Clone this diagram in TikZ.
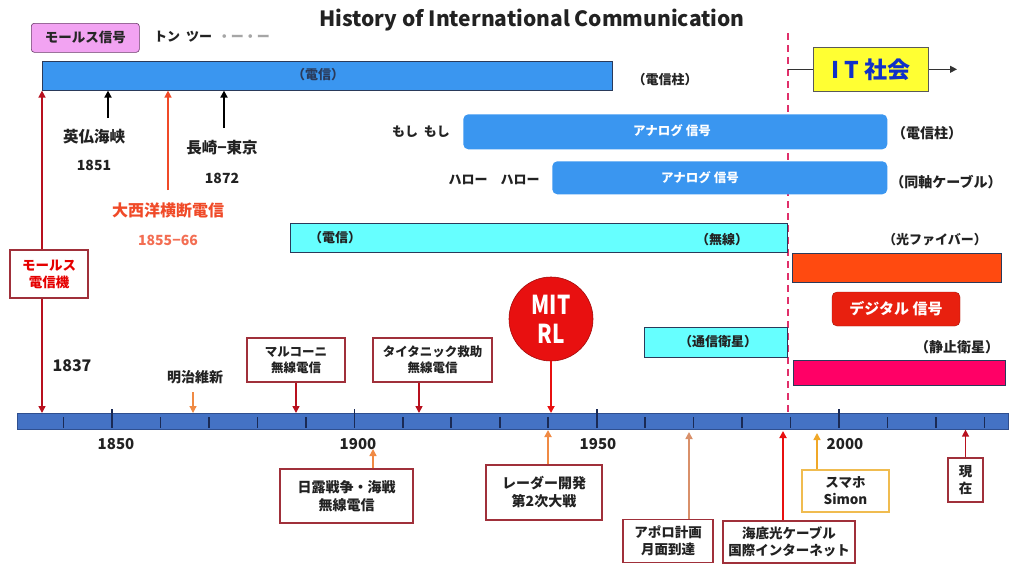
\documentclass[tikz,border=0pt]{standalone}
\usepackage{fontspec}
\setmainfont{Noto Sans CJK JP}
\usetikzlibrary{arrows.meta,calc}
\definecolor{txt}{HTML}{222222}
\definecolor{telebl}{HTML}{3A96F0}
\definecolor{barline}{HTML}{2A3A5A}
\definecolor{tlfill}{HTML}{4472C4}
\definecolor{tlline}{HTML}{2F4F8F}
\definecolor{tick}{HTML}{1A2A55}
\definecolor{cyanb}{HTML}{66FFFF}
\definecolor{fiberc}{HTML}{FF4A10}
\definecolor{satc}{HTML}{FF0066}
\definecolor{digic}{HTML}{E8200F}
\definecolor{itc}{HTML}{FFFF33}
\definecolor{itblue}{HTML}{1030C8}
\definecolor{pinkc}{HTML}{F2A3F2}
\definecolor{pinkline}{HTML}{6B3A6B}
\definecolor{boxred}{HTML}{A0303A}
\definecolor{darkred}{HTML}{B8101E}
\definecolor{brightred}{HTML}{E81010}
\definecolor{orangeA}{HTML}{F08A44}
\definecolor{apolloc}{HTML}{D9906A}
\definecolor{simonc}{HTML}{F0A828}
\definecolor{simonbox}{HTML}{F0BC50}
\definecolor{taiseic}{HTML}{F04A28}
\definecolor{dashc}{HTML}{E0306A}
\tikzset{
  lbl/.style={font=\fontsize{13}{15}\selectfont\bfseries, text=txt, inner sep=1pt},
  biglbl/.style={font=\fontsize{15.5}{17}\selectfont\bfseries, text=txt, inner sep=1pt},
  barbox/.style={anchor=north west, inner sep=0pt, line width=0.6pt, draw=barline},
  evbox/.style={draw=boxred, line width=1.1pt, fill=white, align=center,
    font=\fontsize{12.5}{16}\selectfont\bfseries, text=txt, inner sep=0pt},
  tipline/.style={-{Triangle[length=7pt,width=7pt]}, line width=1.5pt},
}
\begin{document}
\begin{tikzpicture}[x=1pt,y=-1pt]
\useasboundingbox (0,0) rectangle (1011,565);
\fill[white] (0,0) rectangle (1011,565);

% title
\node[font=\fontsize{21}{23}\selectfont\bfseries, text=txt] (title) at (532,20) {History of International Communication};

% dashed era line
\coordinate (dtop) at (788,33);
\node[barbox, draw=tlline, fill=tlfill, minimum width=991pt, minimum height=16pt] (tl) at (17,413) {};
\draw[dashc, line width=1.6pt, dash pattern=on 7pt off 5pt] (dtop) -- (dtop |- tl.north);

% morse top
\node[barbox, draw=pinkline, fill=pinkc, rounded corners=3pt, minimum width=108pt, minimum height=29pt] (morse) at (31,23) {};
\node[lbl, font=\fontsize{13.5}{15}\selectfont\bfseries, text=black!85] (morseT) at (morse.center) {モールス信号};
\node[lbl] (tonn) at (212,37) {トン\ \ ツー\ \ {\color{gray!70}・ー・ー}};

% telegraph bar
\node[barbox, fill=telebl, minimum width=570pt, minimum height=29pt] (tele) at (42,61) {};
\node[lbl, text=barline] (teleT) at (318,75) {（電信）};
\node[lbl] (pole1) at (665,80) {（電信柱）};

% IT society
\node[barbox, draw=gray!70!black, fill=itc, minimum width=115pt, minimum height=44pt] (it) at (813,47) {};
\node[font=\fontsize{23}{25}\selectfont\bfseries, text=itblue] (itT) at (it.center) {I T 社会};
\coordinate (itend) at (957,69);

% analog bars
\node[barbox, draw=none, fill=telebl, rounded corners=5pt, minimum width=424pt, minimum height=35pt] (an1) at (463,114) {};
\node[lbl, font=\fontsize{12.5}{14}\selectfont\bfseries, text=white] (an1T) at (672,131) {アナログ 信号};
\node[lbl] (moshi) at (421,132) {もし\ \ もし};
\node[lbl, font=\fontsize{14}{16}\selectfont\bfseries] (pole2) at (927,133) {（電信柱）};
\node[barbox, draw=none, fill=telebl, rounded corners=5pt, minimum width=335pt, minimum height=33pt] (an2) at (552,161) {};
\node[lbl, font=\fontsize{12.5}{14}\selectfont\bfseries, text=white] (an2T) at (700,178) {アナログ 信号};
\node[lbl] (hello) at (494,180) {ハロー\quad ハロー};
\node[lbl, font=\fontsize{14}{16}\selectfont\bfseries] (coax) at (946,182) {（同軸ケーブル）};

% early telegraph events
\node[biglbl] (eifutsu) at (94,137) {英仏海峡};
\node[lbl, font=\fontsize{14}{16}\selectfont\bfseries] (y1851) at (94,165) {1851};
\node[biglbl] (nagasaki) at (222,148) {長崎−東京};
\node[lbl, font=\fontsize{14}{16}\selectfont\bfseries] (y1872) at (222,178) {1872};
\node[biglbl, font=\fontsize{16}{17}\selectfont\bfseries, text=taiseic] (taisei) at (168,210) {大西洋横断電信};
\node[lbl, font=\fontsize{14}{16}\selectfont\bfseries, text=taiseic!80] (y1855) at (168,240) {1855−66};
\coordinate (e1) at (108,118);
\coordinate (n1) at (224,128);
\coordinate (t1) at (168,190);
\draw[tipline, line width=2pt, black] (e1) -- (e1 |- tele.south);
\draw[tipline, line width=2pt, black] (n1) -- (n1 |- tele.south);
\draw[tipline, taiseic] (t1) -- (t1 |- tele.south);

% wireless
\node[barbox, fill=cyanb, minimum width=497pt, minimum height=29pt] (cy1) at (290,223) {};
\node[lbl] (cy1L) at (335,238) {（電信）};
\node[lbl] (cy1R) at (722,240) {（無線）};
\node[lbl] (fiberT) at (935,240) {（光ファイバー）};
\node[barbox, fill=fiberc, minimum width=209pt, minimum height=29pt] (fiber) at (792,253) {};
\node[fill=digic, draw=digic!70!black, rounded corners=5pt, minimum width=128pt, minimum height=34pt,
  font=\fontsize{15}{17}\selectfont\bfseries, text=white, inner sep=0pt] (digi) at (896,309) {デジタル 信号};
\node[barbox, fill=cyanb, minimum width=143pt, minimum height=30pt] (cy2) at (644,327) {};
\node[lbl] (satT) at (718,342) {（通信衛星）};
\node[lbl, font=\fontsize{14}{16}\selectfont\bfseries] (geoT) at (957,347) {（静止衛星）};
\node[barbox, fill=satc, minimum width=212pt, minimum height=25pt] (sat) at (793,360) {};

% morse machine
\node[evbox, text=red!90!black, font=\fontsize{13.5}{17}\selectfont\bfseries, minimum width=78pt, minimum height=48pt] (mbox) at (49,274) {モールス\\電信機};
\draw[tipline, darkred] (mbox.north -| tele.west) -- (tele.south west);
\draw[tipline, darkred] (mbox.south -| tele.west) -- (tele.west |- tl.north);
\node[lbl, font=\fontsize{16}{18}\selectfont\bfseries] (y1837) at (72,366) {1837};

% upper events
\node[lbl, font=\fontsize{14}{16}\selectfont\bfseries] (meiji) at (195,377) {明治維新};
\coordinate (m1) at (193,392);
\draw[tipline, orangeA, line width=1.2pt] (m1) -- (m1 |- tl.north);
\node[evbox, minimum width=98pt, minimum height=44pt] (marconi) at (296,360) {マルコーニ\\無線電信};
\node[evbox, minimum width=119pt, minimum height=44pt] (titanic) at (432.5,360) {タイタニック救助\\無線電信};
\coordinate (ti1) at (419,413);
\draw[tipline, darkred] (marconi.south) -- (marconi.south |- tl.north);
\draw[tipline, darkred] (ti1 |- titanic.south) -- (ti1);

\node[circle, fill=brightred, draw=brightred!70!black, line width=0.6pt, minimum size=84pt, inner sep=0pt,
  align=center, text=white, font=\fontsize{26}{29}\selectfont\bfseries] (mit) at (551,319) {\scalebox{0.8}[1]{MIT}\\\scalebox{0.8}[1]{RL}};
\draw[tipline, brightred, line width=2pt] (mit.south) -- (mit.south |- tl.north);

% timeline ticks and years
\foreach \yr in {1840,1860,1870,1880,1890,1910,1920,1930,1940,1960,1970,1980,1990,2010,2020,2030}{
  \pgfmathsetmacro\xx{112+(\yr-1850)*4.847}
  \draw[tick, line width=1.6pt] (\xx,417) -- (\xx,428);
}
\foreach \yr in {1850,1900,1950,2000}{
  \pgfmathsetmacro\xx{112+(\yr-1850)*4.847}
  \draw[tick, line width=1.6pt] (\xx,409) -- (\xx,428);
}
\node[lbl, font=\fontsize{15}{17}\selectfont\bfseries] (y1850) at (116,444) {1850};
\node[lbl, font=\fontsize{15}{17}\selectfont\bfseries] (y1900) at (358,444) {1900};
\node[lbl, font=\fontsize{15}{17}\selectfont\bfseries] (y1950) at (598,444) {1950};
\node[lbl, font=\fontsize{15}{17}\selectfont\bfseries] (y2000) at (845,444) {2000};

% lower events
\node[evbox, font=\fontsize{14}{18}\selectfont\bfseries, minimum width=133pt, minimum height=54pt] (nichiro) at (346.5,496) {日露戦争・海戦\\無線電信};
\coordinate (ni1) at (373,449);
\draw[tipline, orangeA, line width=1.4pt] (ni1 |- nichiro.north) -- (ni1);
\node[evbox, font=\fontsize{14}{18}\selectfont\bfseries, minimum width=116pt, minimum height=55pt] (radar) at (544,492.5) {レーダー開発\\第2次大戦};
\coordinate (ra1) at (548,430);
\draw[tipline, orangeA, line width=1.8pt] (ra1 |- radar.north) -- (ra1);
\node[evbox, font=\fontsize{13.5}{17}\selectfont\bfseries, minimum width=90pt, minimum height=43pt] (apollo) at (668,541) {アポロ計画\\月面到達};
\coordinate (ap1) at (689,432);
\draw[tipline, apolloc, line width=1.6pt] (ap1 |- apollo.north) -- (ap1);
\node[evbox, font=\fontsize{13.5}{17}\selectfont\bfseries, minimum width=132pt, minimum height=42pt] (sea) at (789,542) {海底光ケーブル\\国際インターネット};
\coordinate (se1) at (783,431);
\draw[tipline, brightred, line width=2pt] (se1 |- sea.north) -- (se1);
\node[evbox, draw=simonbox, font=\fontsize{13.5}{17}\selectfont\bfseries, minimum width=87pt, minimum height=42pt] (simon) at (845.5,491) {スマホ\\Simon};
\coordinate (si1) at (817,433);
\draw[tipline, simonc, line width=1.5pt] (si1 |- simon.north) -- (si1);
\node[evbox, font=\fontsize{13.5}{17}\selectfont\bfseries, minimum width=35pt, minimum height=44pt] (genzai) at (965.5,480) {現\\在};
\draw[tipline, darkred, line width=1.4pt] (genzai.north) -- (genzai.north |- tl.south);

% IT connectors
\draw[line width=1.2pt, black!80] (it.west -| dtop) -- (it.west);
\draw[tipline, line width=1.2pt, black!80] (it.east) -- (it.east -| itend);
\end{tikzpicture}
\end{document}
